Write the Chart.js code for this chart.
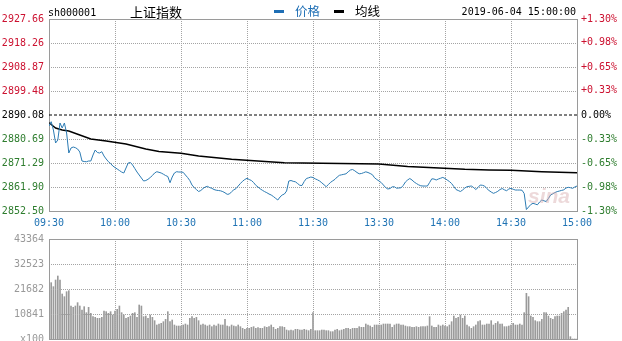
<!DOCTYPE html>
<html>
<head>
<meta charset="utf-8">
<script src="https://cdn.jsdelivr.net/npm/chart.js@4"></script>
<style>
html, body { margin: 0; padding: 0; background: #fff; }
#wrap { position: relative; width: 622px; height: 341px; overflow: hidden; font-family: 'DejaVu Sans Mono', monospace; }
#priceChart { position: absolute; left: 0; top: 0; }
#volChart { position: absolute; left: 0; top: 232px; }
.t { position: absolute; white-space: nowrap; line-height: 1; }
.cjk { font-family: 'Noto Sans CJK SC', sans-serif; }
.dash { position: absolute; width: 10px; height: 3px; }
.mark { position: absolute; left: 528px; top: 185px; font: italic bold 21px 'Liberation Sans', sans-serif; color: rgba(214, 170, 174, 0.45); line-height: 1; }
</style>
</head>
<body>
<div id="wrap">
  <canvas id="priceChart" width="622" height="232"></canvas>
  <canvas id="volChart" width="622" height="109"></canvas>
  <div class="t" style="left:48px;top:8px;font-size:10px;color:#000;">sh000001</div>
  <div class="t cjk" style="left:130px;top:5px;font-size:13px;color:#000;">上证指数</div>
  <div class="dash" style="left:274px;top:10px;background:#1f6fb5;"></div>
  <div class="t cjk" style="left:295px;top:5px;font-size:12.5px;color:#1f6fb5;">价格</div>
  <div class="dash" style="left:334px;top:10px;background:#000;"></div>
  <div class="t cjk" style="left:355px;top:5px;font-size:12.5px;color:#000;">均线</div>
  <div class="t" style="right:46px;top:7px;font-size:10px;color:#000;">2019-06-04 15:00:00</div>
  <div class="mark">sina</div>
</div>
<script>
// minute index 0..240 (09:30 - 11:30 / 13:00 - 15:00)
const timeTicks = [0, 30, 60, 90, 120, 150, 180, 210, 240];
const timeLabels = ['09:30', '10:00', '10:30', '11:00', '11:30', '13:30', '14:00', '14:30', '15:00'];

const prevClose = 2890.08;
const priceTicks = [2852.50, 2861.90, 2871.29, 2880.69, 2890.08, 2899.48, 2908.87, 2918.26, 2927.66];
const pctTicks = [-1.30, -0.98, -0.65, -0.33, 0.00, 0.33, 0.65, 0.98, 1.30];
const volTicks = [0, 10841, 21682, 32523, 43364];

const price = [
  2885.77, 2887.45, 2884.20, 2879.12, 2880.29, 2886.95, 2884.99, 2886.95, 2883.03, 2875.20,
  2877.16, 2877.55, 2877.28, 2876.77, 2875.59, 2872.07, 2871.87, 2871.79, 2872.07, 2872.07,
  2874.42, 2876.37, 2875.40, 2875.20, 2875.71, 2874.03, 2872.85, 2871.79, 2871.09, 2870.11,
  2869.52, 2868.94, 2868.35, 2867.76, 2867.37, 2869.33, 2871.29, 2871.48, 2870.50, 2869.13,
  2867.76, 2866.59, 2865.41, 2864.24, 2864.43, 2864.90, 2865.61, 2866.39, 2867.37, 2867.88,
  2867.64, 2867.37, 2866.90, 2866.39, 2866.00, 2863.57, 2865.80, 2867.37, 2867.88, 2867.76,
  2867.76, 2867.64, 2866.59, 2865.61, 2864.43, 2862.67, 2861.69, 2860.91, 2860.13, 2860.52,
  2861.30, 2861.89, 2862.16, 2861.69, 2861.38, 2860.91, 2860.64, 2860.52, 2860.40, 2860.09,
  2859.62, 2859.03, 2859.15, 2860.05, 2860.79, 2861.26, 2862.28, 2863.26, 2864.16, 2864.83,
  2865.30, 2864.83, 2864.43, 2863.65, 2862.56, 2861.89, 2861.18, 2860.60, 2860.09, 2859.66,
  2859.15, 2858.76, 2858.17, 2857.47, 2856.80, 2857.97, 2858.76, 2859.15, 2860.32, 2864.24,
  2864.43, 2864.12, 2863.93, 2863.26, 2862.56, 2862.48, 2864.04, 2865.22, 2865.49, 2865.80,
  2865.61, 2865.10, 2864.71, 2864.24, 2863.53, 2862.79, 2862.01, 2862.87, 2863.73, 2864.32,
  2864.90, 2865.80, 2866.47, 2866.67, 2866.86, 2867.06, 2867.84, 2868.54, 2868.74, 2868.23,
  2867.57, 2867.06, 2867.17, 2867.49, 2867.84, 2867.57, 2867.17, 2866.71, 2865.49, 2864.83,
  2864.24, 2863.65, 2862.67, 2861.69, 2861.11, 2861.30, 2861.97, 2861.97, 2861.42, 2861.50,
  2861.58, 2862.48, 2863.85, 2864.63, 2865.22, 2864.63, 2863.85, 2863.26, 2862.75, 2862.36,
  2862.28, 2862.28, 2862.28, 2863.65, 2865.10, 2865.02, 2864.63, 2865.02, 2865.33, 2865.65,
  2865.22, 2864.63, 2864.04, 2863.26, 2862.09, 2860.91, 2860.52, 2860.13, 2860.71, 2861.50,
  2862.01, 2862.16, 2862.28, 2861.69, 2860.91, 2861.69, 2862.67, 2862.56, 2862.28, 2861.30,
  2860.52, 2859.93, 2859.42, 2859.74, 2860.21, 2860.91, 2861.30, 2860.79, 2860.44, 2861.11,
  2861.38, 2860.99, 2860.71, 2860.71, 2860.71, 2860.64, 2859.34, 2853.08, 2854.06, 2855.04,
  2855.51, 2855.23, 2854.92, 2856.02, 2856.80, 2856.49, 2856.21, 2857.39, 2858.76, 2859.23,
  2859.74, 2860.09, 2860.32, 2860.56, 2860.79, 2861.50, 2861.77, 2861.62, 2861.38, 2861.89,
  2862.28
];

// average price line, read at these minutes
const avgMinutes = [0, 3, 6, 9, 14, 19, 26, 35, 44, 50, 60, 68, 83, 100, 107, 124, 150, 163, 175, 189, 200, 210, 224, 240];
const avgValues = [2887.06, 2884.99, 2884.20, 2883.81, 2882.25, 2880.68, 2879.90, 2878.72, 2876.77, 2875.79,
  2875.08, 2874.03, 2872.73, 2871.79, 2871.40, 2871.17, 2870.89, 2869.92, 2869.45, 2868.82,
  2868.54, 2868.43, 2867.88, 2867.49];

// volume, in units of 100 shares
const volume = [
  31000,
  24427, 22692, 25582, 27317, 25582, 19512, 18355, 20524, 20957, 14309,
  13731, 14309, 15754, 14309, 12574, 14020, 11418, 13731, 11129, 9684,
  9395, 8961, 8961, 9395, 12141, 11852, 11129, 11852, 10406, 12141,
  12864, 14309, 11418, 10406, 8961, 9395, 9973, 11129, 11418, 9395,
  14742, 14309, 9684, 9973, 8961, 10406, 9395, 7949, 6070, 6504,
  6793, 7515, 8528, 11852, 7515, 8238, 6070, 5637, 5637, 5637,
  6070, 6504, 6070, 8961, 9684, 8961, 9395, 7949, 6070, 6504,
  6070, 5637, 6070, 5348, 6070, 5637, 6504, 6070, 6070, 8528,
  5637, 5348, 6070, 5637, 5348, 6070, 5348, 4625, 4192, 4625,
  4625, 5059, 5348, 4625, 4914, 4625, 4625, 5348, 5059, 5348,
  6070, 5059, 4192, 4625, 5348, 5348, 5059, 3902, 3613, 3902,
  3613, 4192, 4192, 3902, 3902, 4192, 3902, 3613, 4192,
  11418,
  3613, 3613, 3613, 3902, 3902, 3613, 3613, 3180, 3180, 3902,
  4192, 3613, 3902, 4192, 4625, 4625, 4192, 4625, 4625, 4625,
  5348, 5059, 5059, 6504, 6070, 5637, 5059, 6070, 6070, 6070,
  6070, 6504, 6504, 6504, 6504, 5059, 6070, 6504, 6504, 6070,
  6070, 5637, 5348, 5348, 5059, 5059, 5348, 5059, 5348, 5348, 5348,
  5637, 9684, 5637, 5059, 5059, 6070, 5637, 6070, 5637, 5348,
  6070, 7515, 9973, 8961, 9395, 10406, 8961, 9973, 6070, 5348,
  4625, 5348, 6070, 7515, 7949, 6070, 6070, 6504, 6504, 7949,
  6070, 6793, 7515, 6504, 6504, 5348, 5348, 5637, 6070, 6793,
  6070, 6070, 6504, 6070, 11418, 19801, 18355, 9973, 9395, 7949,
  7515, 7515, 8528, 11418, 11418, 9973, 8961, 8528, 9684, 9973,
  9973, 11129, 11852, 12574, 13731, 1012,
  0, 0, 0
];

const RED = '#cc1130';
const GREEN = '#2e7d2e';
const BLUE = '#1f73b4';
const GRID = '#a4a4a4';

Chart.defaults.font.family = "'DejaVu Sans Mono', monospace";
Chart.defaults.font.size = 10;
Chart.defaults.animation = false;

function sideColor(diff) {
  if (Math.abs(diff) < 0.001) return '#000';
  return diff > 0 ? RED : GREEN;
}

// fixed axis size, and no extra room for overhanging labels
function fixSize(prop, size) {
  return s => {
    s[prop] = size;
    s.paddingTop = 0; s.paddingBottom = 0; s.paddingLeft = 0; s.paddingRight = 0;
  };
}

// pixel of a value on a scale; falls back to the scale's own range if the scale gives nothing usable
function pixelOf(scale, value, from, to) {
  const p = scale.getPixelForValue(value);
  if (Number.isFinite(p)) return Math.round(p);
  return Math.round(from + (to - from) * (value - scale.min) / (scale.max - scale.min));
}

// dotted grid (one-pixel dots) plus grey box
function drawGrid(chart) {
  const { ctx, chartArea: a, scales } = chart;
  const left = Math.round(a.left), right = Math.round(a.right);
  const top = Math.round(a.top), bottom = Math.round(a.bottom);
  ctx.save();
  ctx.fillStyle = GRID;
  timeTicks.forEach(t => {
    const px = pixelOf(scales.x, t, left, right);
    for (let py = top; py < bottom; py += 2) ctx.fillRect(px, py, 1, 1);
  });
  const yTicks = chart.canvas.id === 'priceChart' ? priceTicks.filter(v => v !== prevClose) : volTicks;
  yTicks.forEach(v => {
    const py = pixelOf(scales.y, v, bottom, top);
    for (let px = left; px < right; px += 2) ctx.fillRect(px, py, 1, 1);
  });
  ctx.fillStyle = '#9a9a9a';
  ctx.fillRect(left, top, right - left + 1, 1);
  ctx.fillRect(left, bottom, right - left + 1, 1);
  ctx.fillRect(left, top, 1, bottom - top + 1);
  ctx.fillRect(right, top, 1, bottom - top + 1);
  ctx.restore();
}

const gridUnder = { id: 'gridUnder', beforeDatasetsDraw: drawGrid };
const gridOver = { id: 'gridOver', afterDraw: drawGrid };

function timeAxis(showLabels, height) {
  return {
    type: 'linear',
    min: 0,
    max: 240,
    offset: false,
    afterBuildTicks: s => { s.ticks = timeTicks.map(v => ({ value: v })); },
    afterFit: fixSize('height', height),
    grid: { display: false, drawTicks: false, offset: false },
    border: { display: false },
    ticks: {
      padding: 6,
      color: showLabels ? BLUE : 'rgba(0,0,0,0)',
      maxRotation: 0,
      autoSkip: false,
      callback: (v, i) => timeLabels[i]
    }
  };
}

new Chart(document.getElementById('priceChart'), {
  type: 'line',
  data: {
    datasets: [
      {
        label: '价格',
        data: price.map((p, i) => ({ x: i, y: p })),
        borderColor: '#2c7bb3',
        borderWidth: 1,
        pointRadius: 0,
        fill: false
      },
      {
        label: '均线',
        data: avgMinutes.map((m, i) => ({ x: m, y: avgValues[i] })),
        borderColor: '#000',
        borderWidth: 1.4,
        pointRadius: 0,
        fill: false
      },
      {
        label: 'prev',
        data: [{ x: 0, y: prevClose }, { x: 240, y: prevClose }],
        borderColor: '#000',
        borderWidth: 1,
        borderDash: [3, 2],
        pointRadius: 0,
        fill: false
      }
    ]
  },
  options: {
    responsive: false,
    layout: { padding: { top: 19, left: 0, right: 0, bottom: 0 } },
    plugins: { legend: { display: false }, tooltip: { enabled: false } },
    scales: {
      x: timeAxis(true, 21),
      y: {
        position: 'left',
        min: priceTicks[0],
        max: priceTicks[priceTicks.length - 1],
        afterBuildTicks: s => { s.ticks = priceTicks.map(v => ({ value: v })); },
        afterFit: fixSize('width', 49),
        grid: { display: false, drawTicks: false },
        border: { display: false },
        ticks: {
          padding: 5,
          color: ctx => sideColor(ctx.tick.value - prevClose),
          callback: v => Number(v).toFixed(2)
        }
      },
      y1: {
        position: 'right',
        min: pctTicks[0],
        max: pctTicks[pctTicks.length - 1],
        afterBuildTicks: s => { s.ticks = pctTicks.map(v => ({ value: v })); },
        afterFit: fixSize('width', 45),
        grid: { display: false, drawTicks: false },
        border: { display: false },
        ticks: {
          padding: 4,
          color: ctx => sideColor(ctx.tick.value),
          callback: v => (v > 0 ? '+' : '') + Number(v).toFixed(2) + '%'
        }
      }
    }
  },
  plugins: [gridUnder]
});

new Chart(document.getElementById('volChart'), {
  type: 'bar',
  data: {
    datasets: [{
      label: '成交量',
      data: volume.map((v, i) => ({ x: i, y: v })),
      backgroundColor: '#9a9a9a',
      barThickness: 1
    }]
  },
  options: {
    responsive: false,
    layout: { padding: { top: 7, left: 0, right: 45, bottom: 0 } },
    plugins: { legend: { display: false }, tooltip: { enabled: false } },
    scales: {
      x: timeAxis(false, 2),
      y: {
        position: 'left',
        min: 0,
        max: volTicks[volTicks.length - 1],
        afterBuildTicks: s => { s.ticks = volTicks.map(v => ({ value: v })); },
        afterFit: fixSize('width', 49),
        grid: { display: false, drawTicks: false },
        border: { display: false },
        ticks: {
          padding: 5,
          color: '#999',
          callback: v => v === 0 ? 'x100' : String(v)
        }
      }
    }
  },
  plugins: [gridOver]
});
</script>
</body>
</html>
